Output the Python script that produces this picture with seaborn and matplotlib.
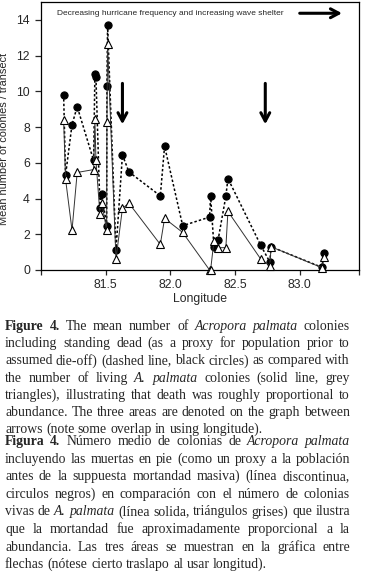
import matplotlib
matplotlib.use("Agg")
import matplotlib.pyplot as plt
import seaborn as sns
import pandas as pd

# --- data ---
longitude = [81.175, 81.19, 81.24, 81.28, 81.407, 81.417, 81.425, 81.456, 81.47,
             81.508, 81.51, 81.515, 81.58, 81.63, 81.68, 81.923, 81.956, 82.096,
             82.304, 82.312, 82.338, 82.37, 82.43, 82.446, 82.70, 82.77, 82.78,
             83.173, 83.19]
with_dead = [9.82, 5.31, 8.14, 9.14, 6.13, 10.99, 10.78, 3.48, 4.26,
             2.48, 10.28, 13.69, 1.10, 6.44, 5.49, 4.15, 6.93, 2.48,
             2.96, 4.15, 1.28, 1.68, 4.13, 5.12, 1.38, 0.45, 1.30,
             0.15, 0.95]
living = [8.42, 5.08, 2.23, 5.46, 5.62, 8.44, 6.13, 3.11, 3.76,
          2.23, 8.27, 12.64, 0.61, 3.45, 3.74, 1.43, 2.89, 2.10,
          0.0, 0.0, 1.64, 1.25, 1.25, 3.28, 0.61, 0.24, 1.30,
          0.13, 0.75]
area_arrows = [81.63, 82.735]
x_ticks = [81.0, 81.5, 82.0, 82.5, 83.0, 83.46]
x_labels = ["", "81.5", "82.0", "82.5", "83.0", ""]
y_ticks = [0, 2, 4, 6, 8, 10, 12, 14]

caption_en = [
    "*Figure* *4.* The mean number of _Acropora_ _palmata_ colonies",
    "including standing dead (as a proxy for population prior to",
    "assumed die-off) (dashed line, black circles) as compared with",
    "the number of living _A._ _palmata_ colonies (solid line, grey",
    "triangles), illustrating that death was roughly proportional to",
    "abundance. The three areas are denoted on the graph between",
    "arrows (note some overlap in using longitude).",
]
caption_es = [
    "*Figura* *4.* Número medio de colonias de _Acropora_ _palmata_",
    "incluyendo las muertas en pie (como un proxy a la población",
    "antes de la suppuesta mortandad masiva) (línea discontinua,",
    "circulos negros) en comparación con el número de colonias",
    "vivas de _A._ _palmata_ (línea solida, triángulos grises) que ilustra",
    "que la mortandad fue aproximadamente proporcional a la",
    "abundancia. Las tres áreas se muestran en la gráfica entre",
    "flechas (nótese cierto traslapo al usar longitud).",
]

df = pd.DataFrame({"lon": longitude, "dead": with_dead, "live": living})

sns.set_style("ticks")
plt.rcParams["font.family"] = ["Liberation Sans Narrow", "Liberation Sans", "DejaVu Sans"]

W, H = 365, 573
fig = plt.figure(figsize=(W / 100, H / 100), dpi=100)
ax = fig.add_axes([41 / W, 1 - 270 / H, 318 / W, 268 / H])

# colonies including standing dead (dashed, black circles)
sns.lineplot(data=df, x="lon", y="dead", sort=False, estimator=None, ax=ax,
             color="black", linestyle=(0, (1.6, 1.4)), linewidth=1.1,
             marker="o", markersize=5.2, markerfacecolor="black",
             markeredgecolor="black", clip_on=False, zorder=3)
# living colonies (solid, triangles)
sns.lineplot(data=df, x="lon", y="live", sort=False, estimator=None, ax=ax,
             color="#333333", linestyle="-", linewidth=0.7,
             marker="^", markersize=5.5, markerfacecolor="white",
             markeredgecolor="black", markeredgewidth=0.8, clip_on=False, zorder=4)

ax.set_xlim(81.0, 83.46)
ax.set_ylim(0, 15)
ax.set_xticks(x_ticks)
ax.set_xticklabels(x_labels)
ax.set_yticks(y_ticks)
ax.tick_params(axis="x", direction="out", length=3.5, width=0.9, pad=3, labelsize=8.8)
ax.tick_params(axis="y", direction="out", length=4, width=0.9, pad=4, labelsize=8.8)
for s in ax.spines.values():
    s.set_linewidth(0.9)
    s.set_color("black")

ax.set_xlabel("Longitude", fontsize=8.8)
ax.set_ylabel("Mean number of colonies / transect", fontsize=7.9)
ax.xaxis.set_label_coords(0.5, -0.085)
ax.yaxis.set_label_coords(-0.1, 0.49)

# region annotations
ax.text(81.12, 14.37, "Decreasing hurricane frequency and increasing wave shelter",
        fontsize=6.0, va="center", ha="left")
arrow = dict(arrowstyle="->,head_width=0.32,head_length=0.6", lw=2.2, color="black")
ax.annotate("", xy=(83.35, 14.37), xytext=(82.98, 14.37), arrowprops=arrow)
for xa in area_arrows:
    ax.annotate("", xy=(xa, 8.0), xytext=(xa, 10.6), arrowprops=arrow)

# caption, justified line by line
renderer = fig.canvas.get_renderer()


def caption(lines, base0, step, size=9.9, left=5, right=350):
    for i, line in enumerate(lines):
        arts = []
        for word in line.split(" "):
            kw = dict(fontsize=size, family=["Liberation Serif", "DejaVu Serif"],
                      va="baseline", ha="left")
            if word.startswith("*"):
                word = word.strip("*")
                kw["fontweight"] = "bold"
            elif word.startswith("_"):
                word = word.strip("_")
                kw["fontstyle"] = "italic"
            arts.append(fig.text(0, 0, word, **kw))
        widths = [a.get_window_extent(renderer).width for a in arts]
        if i < len(lines) - 1 and len(arts) > 1:
            gap = (right - left - sum(widths)) / (len(arts) - 1)
        else:
            gap = size * 1.389 * 0.25
        x = left
        y = base0 + i * step
        for a, w in zip(arts, widths):
            a.set_position((x / W, 1 - y / H))
            x += w + gap


caption(caption_en, 330, 17.2)
caption(caption_es, 445, 17.6)

fig.savefig("out.png", dpi=100)
